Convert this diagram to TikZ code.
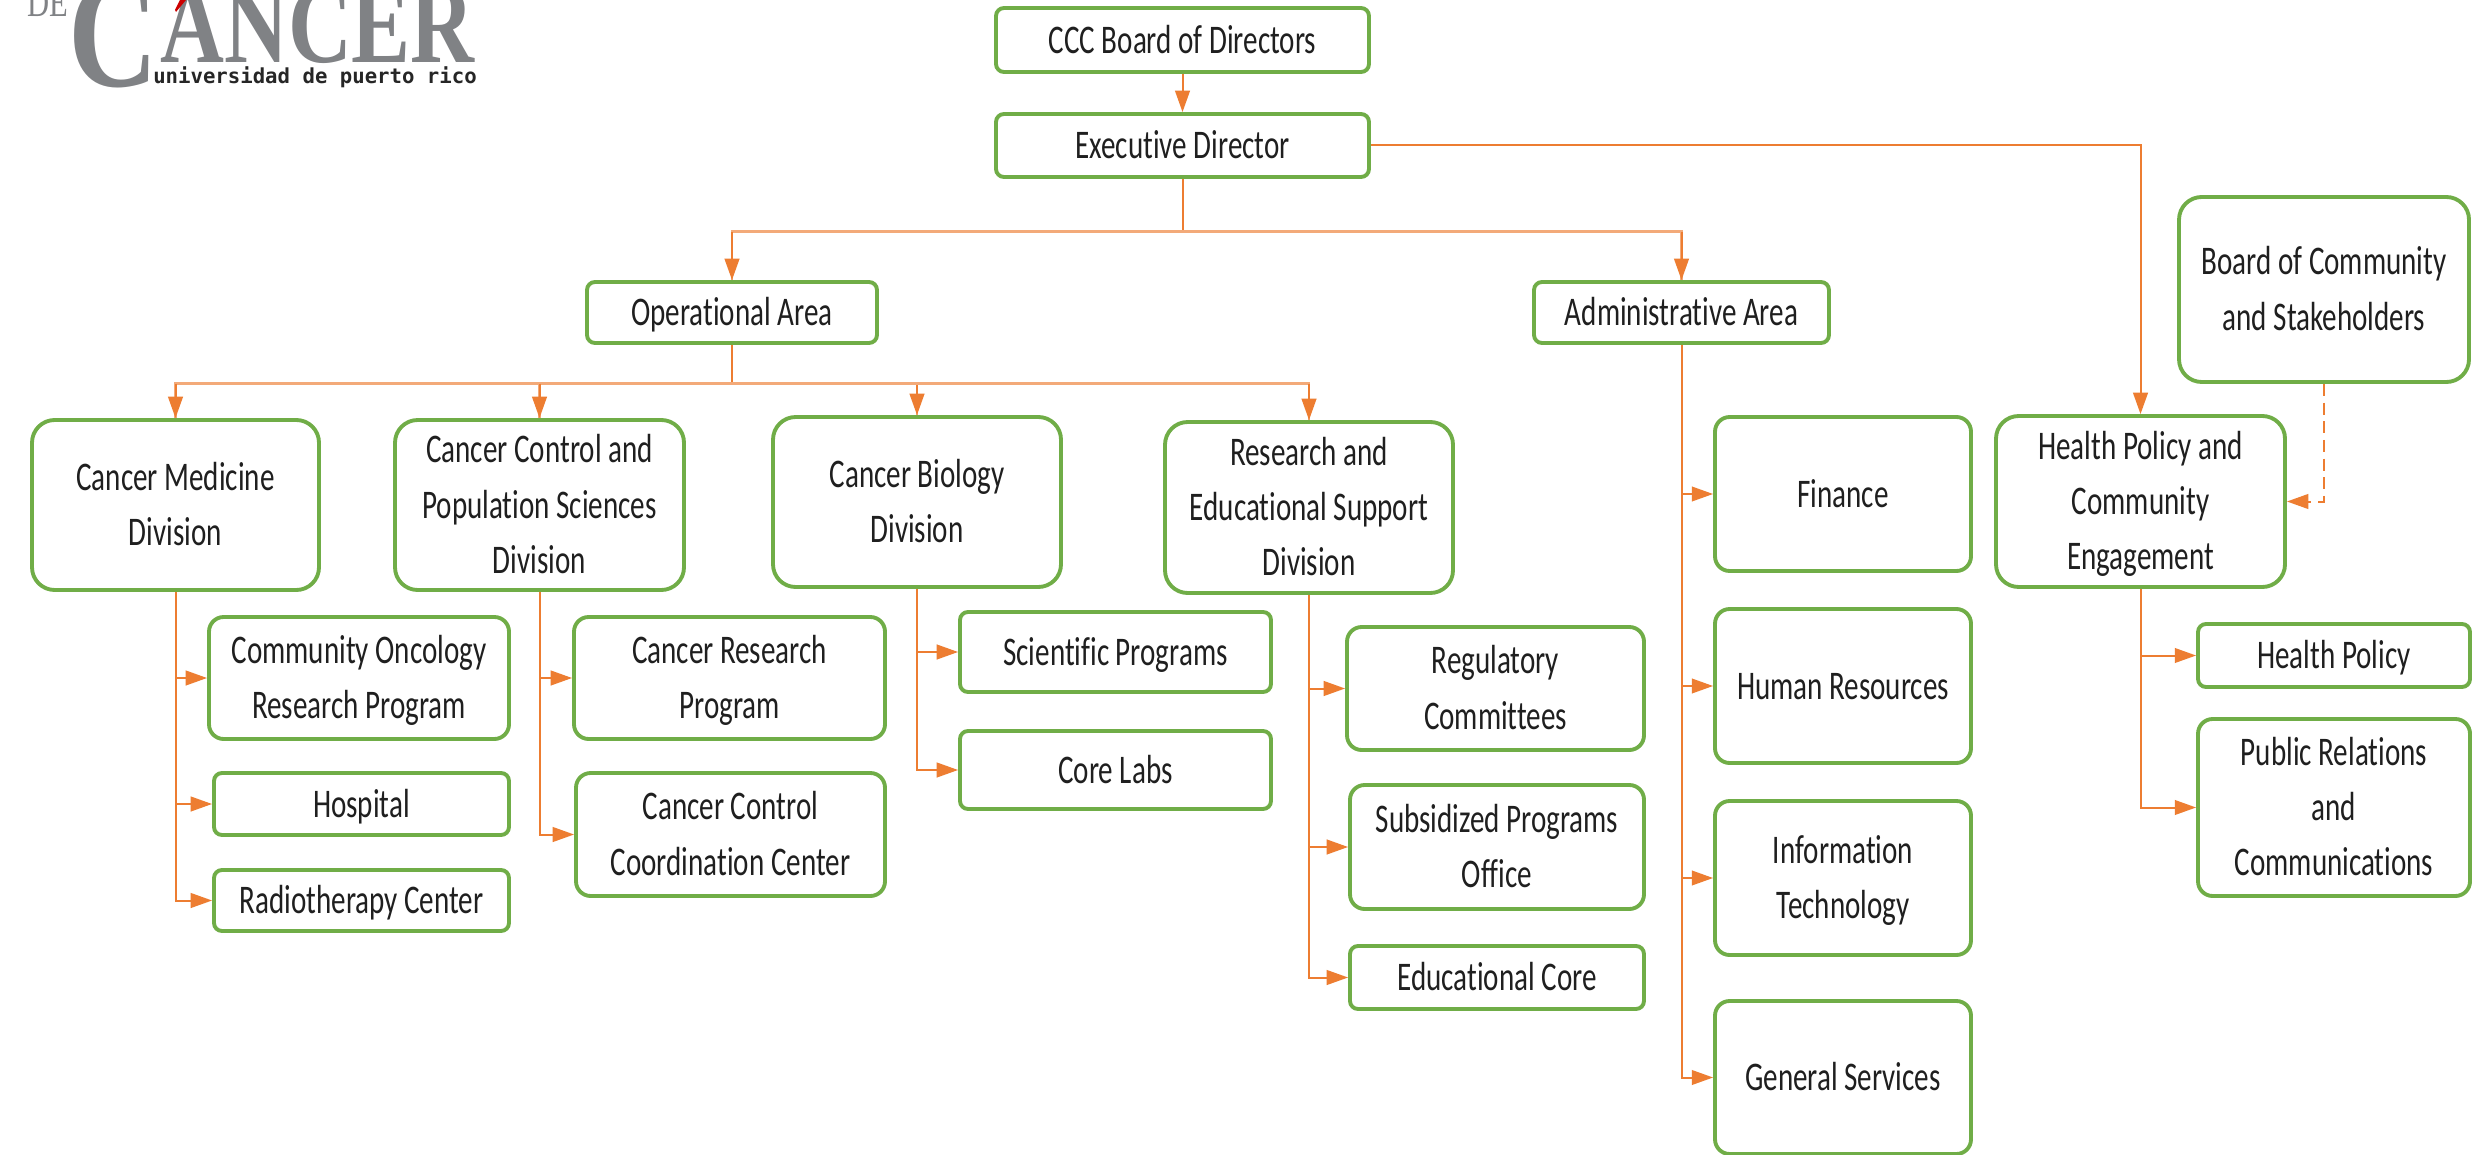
\documentclass[tikz,border=0pt]{standalone}
\usepackage{fontspec}
\usetikzlibrary{arrows.meta}
\setmainfont{Carlito}
\newfontfamily\boxfont[FakeStretch=0.715,Ligatures=NoCommon]{Carlito}
\newfontfamily\logoserif[FakeStretch=0.74]{Liberation Serif}
\newfontfamily\logoserifb[FakeStretch=0.79]{Liberation Serif Bold}
\newfontfamily\logomono{DejaVu Sans Mono Bold}
\definecolor{bgreen}{HTML}{70AD47}
\definecolor{bor}{HTML}{ED7D31}
\definecolor{logogray}{HTML}{808285}
\tikzset{
  orgbox/.style={draw=bgreen,line width=2.9pt,fill=white,inner sep=0pt,
    font=\boxfont\fontsize{30.5}{41.5}\selectfont,text=black!88},
  sbox/.style={orgbox,rounded corners=6pt},
  mbox/.style={orgbox,rounded corners=11pt},
  lbox/.style={orgbox,rounded corners=17pt},
  conn/.style={draw=bor,line width=1.5pt,-{Triangle[length=16pt,width=11pt]}},
  plain/.style={draw=bor,line width=1.5pt},
  bus/.style={draw=bor!65,line width=2.2pt},
  logobig/.style={inner sep=0pt,anchor=base west,text=logogray},
}
\newcommand\bx[7]{% style,name,x1,y1,x2,y2,text
  \pgfmathsetmacro\bxw{(#5-#3)*0.75}\pgfmathsetmacro\bxh{(#6-#4)*0.75}
  \pgfmathsetmacro\bxx{(#3+#5)/2}\pgfmathsetmacro\bxy{(#4+#6)/2}
  \node[#1,minimum width=\bxw pt,minimum height=\bxh pt] (#2) at (\bxx,\bxy) {\raisebox{-1.5pt}[\height][\depth]{\begin{tabular}{@{}c@{}}#7\end{tabular}}};}
\begin{document}
\begin{tikzpicture}[x=0.75pt,y=-0.75pt]
\useasboundingbox (0,0) rectangle (2488,1155);
\fill[white] (0,0) rectangle (2488,1155);
% logo
\begin{scope}
\clip (0,0) rectangle (2488,1155);
\node[logobig,font=\logoserif\fontsize{31}{31}\selectfont] (logoDe) at (27,17) {DE};
\node[logobig,font=\logoserifb\fontsize{118}{118}\selectfont] (logoC) at (68,87) {C};
\node[logobig,font=\logoserifb\fontsize{84}{84}\selectfont] (logoRest) at (160,63) {ANCER};
\fill[red!80!black] (186,0) -- (176,12) -- (175,10) -- (180,0) -- cycle;
\node[logobig,text=black!85,font=\logomono\fontsize{15.5}{16}\selectfont] (logoU) at (153,84) {universidad de puerto rico};
\end{scope}
% boxes
\bx{sbox}{ccc}{996}{8}{1369}{72}{CCC Board of Directors}
\bx{sbox}{exec}{996}{114}{1369}{177}{Executive Director}
\bx{sbox}{op}{587}{282}{877}{343}{Operational Area}
\bx{sbox}{adm}{1534}{282}{1829}{343}{Administrative Area}
\bx{lbox}{board}{2179}{197}{2469}{382}{Board of Community\\and Stakeholders}
\bx{lbox}{hp}{1996}{416}{2285}{587}{Health Policy and\\Community\\Engagement}
\bx{lbox}{med}{32}{420}{319}{590}{Cancer Medicine\\Division}
\bx{lbox}{ccps}{395}{420}{684}{590}{Cancer Control and\\Population Sciences\\Division}
\bx{lbox}{bio}{773}{417}{1061}{587}{Cancer Biology\\Division}
\bx{lbox}{res}{1165}{422}{1453}{593}{Research and\\Educational Support\\Division}
\bx{mbox}{coi}{209}{617}{509}{739}{Community Oncology\\Research Program}
\bx{sbox}{hosp}{214}{773}{509}{835}{Hospital}
\bx{sbox}{radio}{214}{870}{509}{931}{Radiotherapy Center}
\bx{mbox}{crp}{574}{617}{885}{739}{Cancer Research\\Program}
\bx{mbox}{cccc}{576}{773}{885}{896}{Cancer Control\\Coordination Center}
\bx{sbox}{sci}{960}{612}{1271}{692}{Scientific Programs}
\bx{sbox}{core}{960}{731}{1271}{809}{Core Labs}
\bx{mbox}{reg}{1347}{627}{1644}{750}{Regulatory\\Committees}
\bx{mbox}{sub}{1350}{785}{1644}{909}{Subsidized Programs\\Office}
\bx{sbox}{edu}{1350}{946}{1644}{1009}{Educational Core}
\bx{mbox}{fin}{1715}{417}{1971}{571}{Finance}
\bx{mbox}{hr}{1715}{609}{1971}{763}{Human Resources}
\bx{mbox}{it}{1715}{801}{1971}{955}{Information\\Technology}
\bx{mbox}{gs}{1715}{1001}{1971}{1154}{General Services}
\bx{sbox}{hpol}{2198}{624}{2470}{687}{Health Policy}
\bx{mbox}{pr}{2198}{719}{2470}{896}{Public Relations\\and\\Communications}
% connectors
\draw[conn] (ccc) -- (exec);
\draw[plain] (exec.south) -- ++(0,53) coordinate (busA);
\draw[bus] (busA) -| (op.north);
\draw[bus] (busA) -| (adm.north);
\draw[conn] (op.north |- busA) -- (op.north);
\draw[conn] (adm.north |- busA) -- (adm.north);
\draw[conn] (exec.east) -| (hp.north);
\draw[conn,dash pattern=on 9pt off 5pt] (board.south) |- (hp.east);
\draw[plain] (op.south) -- ++(0,39) coordinate (busB);
\foreach \t in {med,ccps,bio,res}{
  \draw[bus] (busB) -| (\t.north);
  \draw[conn] (\t.north |- busB) -- (\t.north);
}
\foreach \p/\c in {med/coi,med/hosp,med/radio,ccps/crp,ccps/cccc,bio/sci,bio/core,res/reg,res/sub,res/edu,adm/fin,adm/hr,adm/it,adm/gs,hp/hpol,hp/pr}{
  \draw[conn] (\p.south) |- (\c.west);
}
\end{tikzpicture}
\end{document}
